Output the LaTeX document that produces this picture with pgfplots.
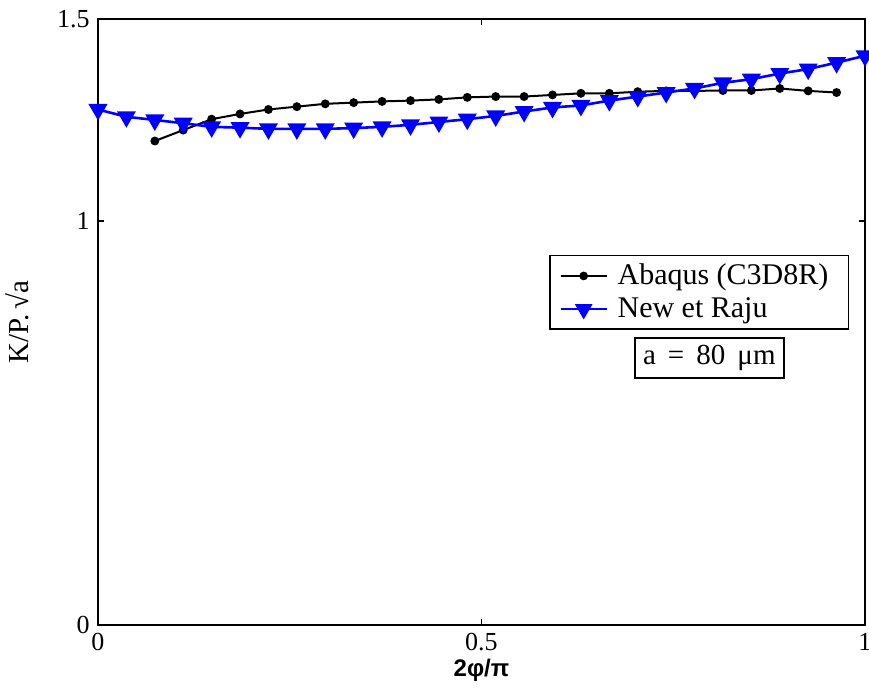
\documentclass[border=0pt]{standalone}
\usepackage{fontspec}
\setmainfont{Liberation Serif}
\newfontfamily\sansf{Liberation Sans}
\usepackage{pgfplots}
\pgfplotsset{compat=1.18}
\begin{document}
\fontsize{12}{14}\selectfont
\begin{tikzpicture}
\path[use as bounding box] (-49pt,-32pt) rectangle (385.5pt,312.5pt);
\begin{axis}[
  scale only axis,
  width=383.5pt, height=303pt,
  xmin=0, xmax=1, ymin=0, ymax=1.5,
  xtick={0,0.5,1}, ytick={0,1,1.5},
  xticklabels={0,0.5,1}, yticklabels={0,1,1.5},
  tick align=inside, major tick length=3pt,
  axis line style={line width=1pt},
  tick style={black, line width=0.6pt},
  tick label style={font=\fontsize{13}{15}\selectfont},
  xlabel={\sansf\bfseries 2φ/π},
  ylabel={K/P.\,√a},
  xlabel style={yshift=4pt},
  ylabel style={yshift=6pt, font=\fontsize{14.5}{16}\selectfont},
  legend cell align=left,
  legend style={at={(rel axis cs:0.588,0.611)}, anchor=north west,
    draw=black, line width=0.8pt, font=\fontsize{15}{17}\selectfont,
    inner xsep=5pt, inner ysep=2pt, row sep=0.5pt,
    nodes={inner xsep=5pt, text depth=2pt}},
  legend image post style={line width=0.9pt},
  legend image code/.code={\draw[#1] (0pt,0pt) -- (23pt,0pt); \draw[#1,mark repeat=2,mark phase=2] plot coordinates {(0pt,0pt) (11.5pt,0pt) (23pt,0pt)};},
  clip=false,
]
\addplot[black, line width=1pt, mark=*, mark size=1.7pt, mark options={solid}] coordinates {
(0.07407,1.198) (0.11111,1.225) (0.14815,1.252) (0.18519,1.265) (0.22222,1.276)
(0.25926,1.283) (0.29630,1.290) (0.33333,1.293) (0.37037,1.296) (0.40741,1.298)
(0.44444,1.301) (0.48148,1.306) (0.51852,1.308) (0.55556,1.308) (0.59259,1.312)
(0.62963,1.316) (0.66667,1.316) (0.70370,1.320) (0.74074,1.322) (0.77778,1.322)
(0.81481,1.323) (0.85185,1.323) (0.88889,1.328) (0.92593,1.322) (0.96296,1.318)
};
\addlegendentry{Abaqus (C3D8R)}
\addplot[blue, line width=1.3pt, mark=triangle*, mark size=4.2pt, mark options={solid, rotate=180}] coordinates {
(0.00000,1.276) (0.03704,1.258) (0.07407,1.250) (0.11111,1.242) (0.14815,1.233)
(0.18519,1.231) (0.22222,1.228) (0.25926,1.228) (0.29630,1.228) (0.33333,1.230)
(0.37037,1.233) (0.40741,1.238) (0.44444,1.245) (0.48148,1.252) (0.51852,1.260)
(0.55556,1.271) (0.59259,1.281) (0.62963,1.286) (0.66667,1.298) (0.70370,1.308)
(0.74074,1.318) (0.77778,1.328) (0.81481,1.342) (0.85185,1.351) (0.88889,1.365)
(0.92593,1.376) (0.96296,1.392) (1.00000,1.409)
};
\addlegendentry{New et Raju}
\node[draw=black, line width=1pt, inner xsep=4pt, inner ysep=3.5pt, font=\fontsize{14.5}{17}\selectfont]
  at (rel axis cs:0.797,0.4406) {a\, =\, 80\, μm};
\end{axis}
\end{tikzpicture}
\end{document}
